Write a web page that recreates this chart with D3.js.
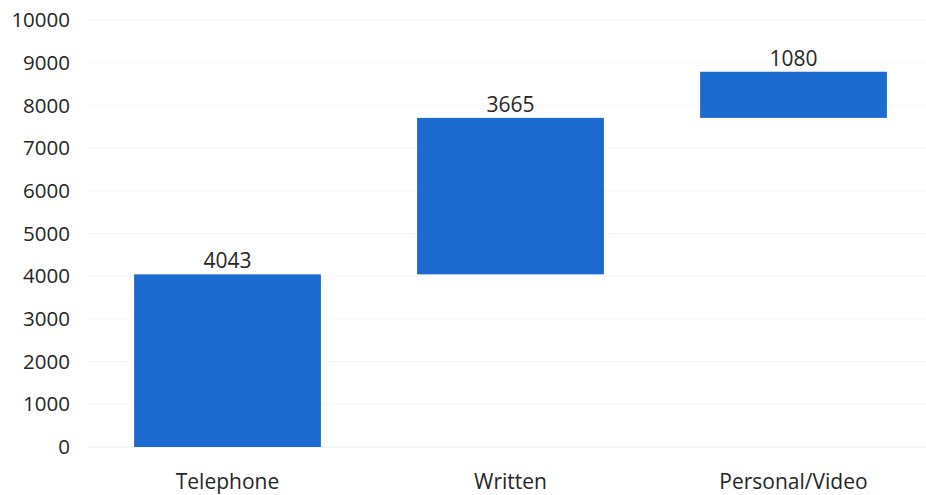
<!DOCTYPE html>
<html>
<head>
<meta charset="utf-8">
<script src="https://cdn.jsdelivr.net/npm/d3@7"></script>
<style>
  body { margin: 0; background: #fff; }
  text { font-family: "Open Sans", sans-serif; fill: #262626; }
</style>
</head>
<body>
<svg width="926" height="495"></svg>
<script>
const categories = ["Telephone", "Written", "Personal/Video"];
const values = [4043, 3665, 1080];
const yTicks = [0, 1000, 2000, 3000, 4000, 5000, 6000, 7000, 8000, 9000, 10000];

// running totals for the waterfall
let total = 0;
const bars = categories.map((c, i) => {
  const start = total;
  total += values[i];
  return { name: c, value: values[i], start: start, end: total };
});

const svg = d3.select("svg");

const x = d3.scaleBand()
  .domain(categories)
  .range([86, 935])
  .paddingInner(0.34)
  .paddingOuter(0.17);

const y = d3.scaleLinear()
  .domain([0, 10000])
  .range([447, 20]);

// faint gridlines
svg.append("g")
  .selectAll("line")
  .data(yTicks)
  .enter()
  .append("line")
  .attr("x1", 88)
  .attr("x2", 926)
  .attr("y1", d => y(d))
  .attr("y2", d => y(d))
  .attr("stroke", d => d === 0 ? "#ececec" : "#f6f6f6")
  .attr("stroke-width", 1);

// y axis labels
svg.append("g")
  .selectAll("text")
  .data(yTicks)
  .enter()
  .append("text")
  .attr("x", 70)
  .attr("y", d => y(d))
  .attr("dy", "0.35em")
  .attr("text-anchor", "end")
  .style("font-size", "20.5px")
  .text(d => d);

svg.append("g")
  .selectAll("rect")
  .data(bars)
  .enter()
  .append("rect")
  .attr("x", d => x(d.name))
  .attr("width", x.bandwidth())
  .attr("y", d => y(d.end))
  .attr("height", d => y(d.start) - y(d.end))
  .attr("fill", "#1b6bd1");

// value labels
svg.append("g")
  .selectAll("text")
  .data(bars)
  .enter()
  .append("text")
  .attr("x", d => x(d.name) + x.bandwidth() / 2)
  .attr("y", d => y(d.end) - 6)
  .attr("text-anchor", "middle")
  .style("font-size", "21px")
  .text(d => d.value);

// category labels
svg.append("g")
  .selectAll("text")
  .data(categories)
  .enter()
  .append("text")
  .attr("x", d => x(d) + x.bandwidth() / 2)
  .attr("y", 489)
  .attr("text-anchor", "middle")
  .style("font-size", "21px")
  .text(d => d);
</script>
</body>
</html>
